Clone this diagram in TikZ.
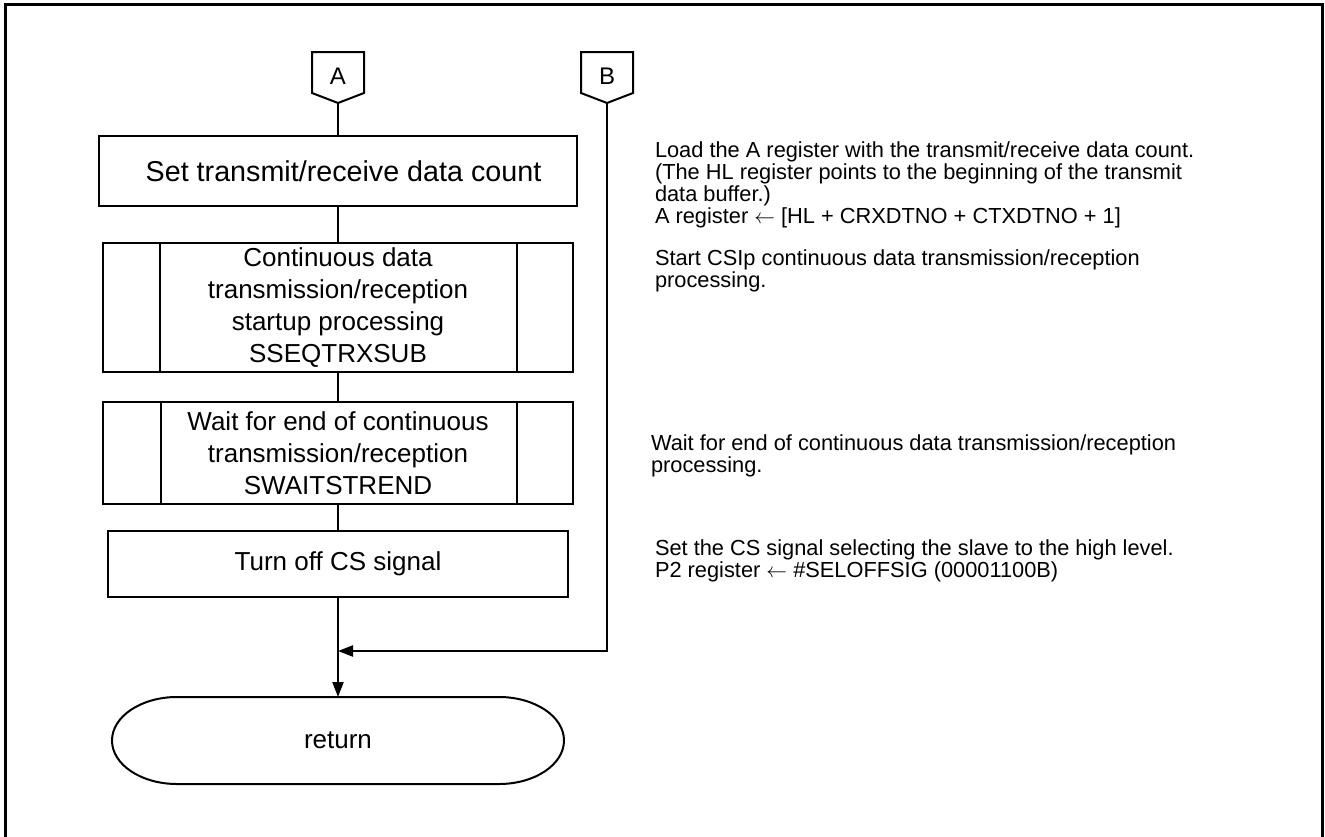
\documentclass[tikz,border=0pt]{standalone}
\usepackage{fontspec}
\setmainfont{Liberation Sans}
\usetikzlibrary{arrows.meta,calc}
\begin{document}
\begin{tikzpicture}[x=1pt,y=-1pt,
  line width=2pt,
  proc/.style={draw,rectangle,line width=2pt,align=center,inner sep=0pt},
  boxtxt/.style={inner sep=0pt,align=center,
     font=\fontsize{26}{32}\selectfont},
  note/.style={anchor=west,align=left,inner sep=0pt,
     font=\fontsize{21.8}{22}\selectfont},
  conn/.style={line width=2.2pt},
  arr/.style={conn,-{Triangle[length=15pt,width=11pt]}},
  lbl/.style={inner sep=0pt,font=\fontsize{24}{28}\selectfont}]
\useasboundingbox (0,0) rectangle (1325,836);
% frame
\draw[line width=3pt] (5,840) -- (5,4) -- (1322,4) -- (1322,840);
% off-page connectors
\node[lbl] (A) at (338,76) {A};
\draw[line width=2pt] (312,52) -- (364,52) -- (364,93) -- (338,103) -- (312,93) -- cycle;
\coordinate (Ap) at (338,103);
\node[lbl] (B) at (607,76) {B};
\draw[line width=2pt] (581,52) -- (633,52) -- (633,93) -- (607,103) -- (581,93) -- cycle;
\coordinate (Bp) at (607,103);
% boxes
\node[proc,minimum width=478pt,minimum height=70pt] (b1) at (338,171) {};
\node[boxtxt,font=\fontsize{28.7}{32}\selectfont] (t1) at (343.5,171) {Set transmit/receive data count};
\node[proc,minimum width=470pt,minimum height=129pt] (b2) at (338,307.5) {};
\node[boxtxt] (t2) at (338,307.5) {Continuous data\\transmission/reception\\startup processing\\SSEQTRXSUB};
\draw (160,243) -- (160,372) (517,243) -- (517,372);
\node[proc,minimum width=470pt,minimum height=102pt] (b3) at (338,453) {};
\node[boxtxt] (t3) at (338,453) {Wait for end of continuous\\transmission/reception\\SWAITSTREND};
\draw (161,402) -- (161,504) (517,402) -- (517,504);
\node[proc,minimum width=460pt,minimum height=66pt] (b4) at (338,564) {};
\node[boxtxt] (t4) at (338,564) {Turn off CS signal};
% terminal
\node[boxtxt] (ret) at (338,740.5) {return};
\draw (177,697) -- (499,697) arc[start angle=-90,end angle=90,x radius=65,y radius=43.5]
  -- (177,784) arc[start angle=90,end angle=270,x radius=65,y radius=43.5] -- cycle;
\coordinate (rettop) at (338,697);
% connectors
\draw[conn] (Ap) -- (b1.north);
\draw[conn] (b1.south) -- (b2.north);
\draw[conn] (b2.south) -- (b3.north);
\draw[conn] (b3.south) -- (b4.north);
\draw[arr] (b4.south) -- (rettop);
\coordinate (Bc) at (607,651);
\coordinate (J) at (338,651);
\draw[arr] (Bp) -- (Bc) -- (J);
% notes
\node[note] (n1) at (654,185) {Load the A register with the transmit/receive data count.\\(The HL register points to the beginning of the transmit\\data buffer.)\\A register $\leftarrow$ [HL + CRXDTNO + CTXDTNO + 1]};
\node[note] (n2) at (654,271) {Start CSIp continuous data transmission/reception\\processing.};
\node[note] (n3) at (650,455.5) {Wait for end of continuous data transmission/reception\\processing.};
\node[note] (n4) at (654,560.5) {Set the CS signal selecting the slave to the high level.\\P2 register $\leftarrow$ \#SELOFFSIG (00001100B)};
\end{tikzpicture}
\end{document}
